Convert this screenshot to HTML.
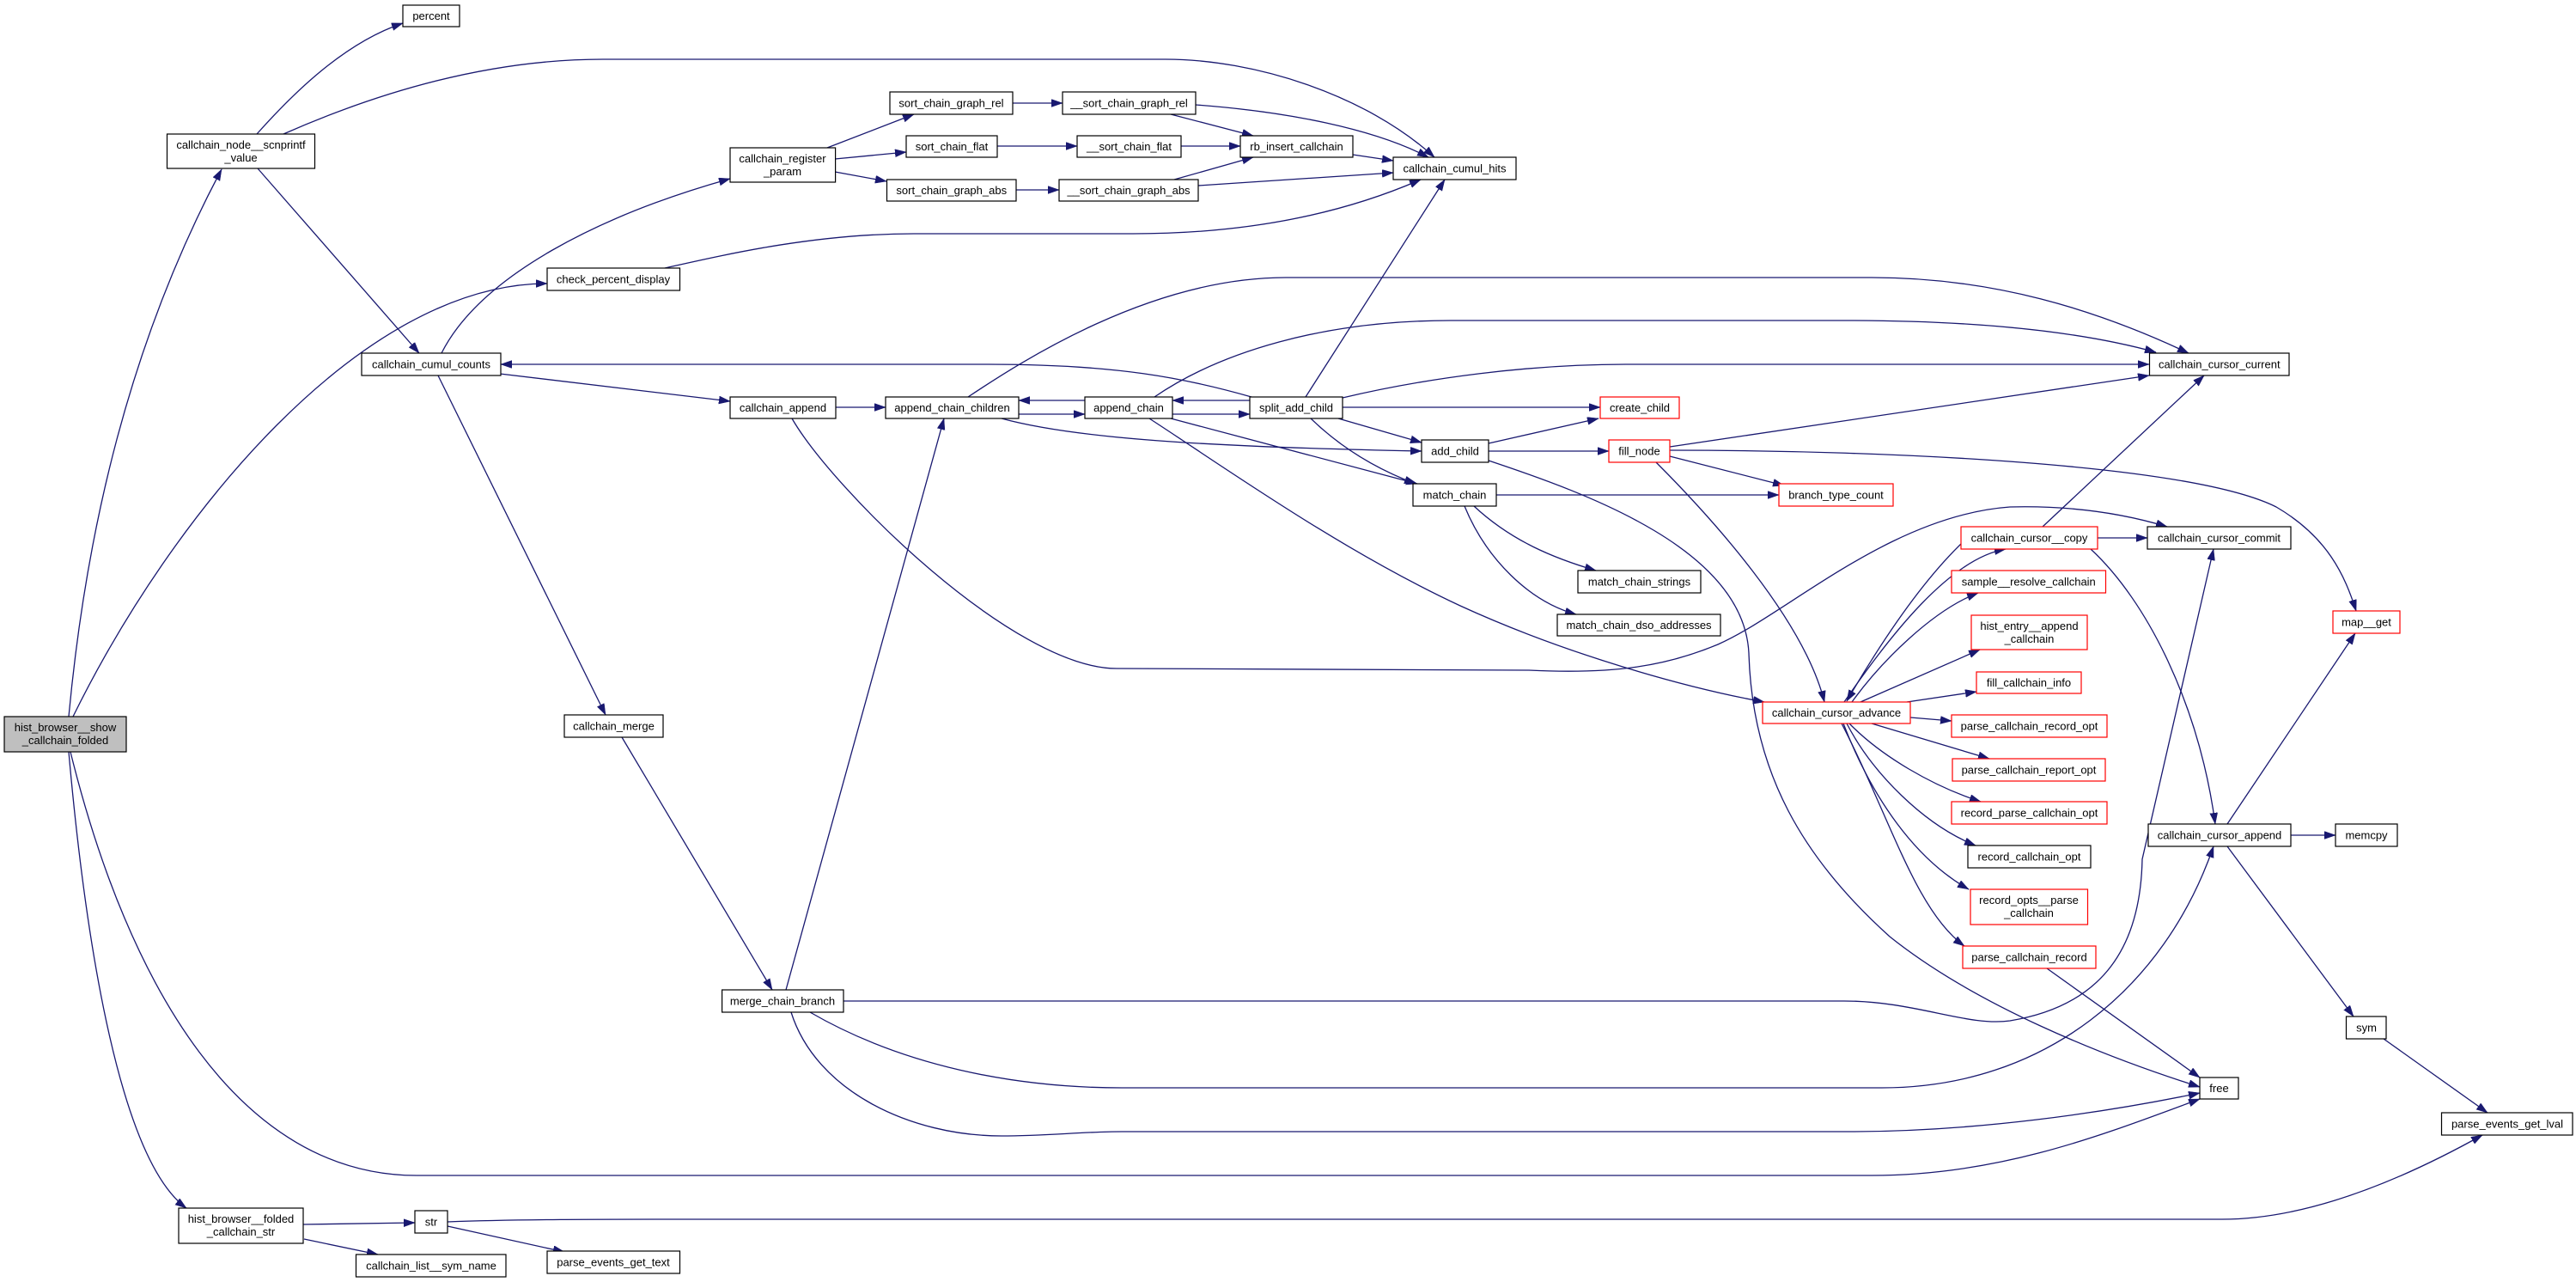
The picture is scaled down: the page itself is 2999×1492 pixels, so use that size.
<!DOCTYPE html>
<html><head><meta charset="utf-8"><style>
html,body{margin:0;padding:0;background:#fff;}
svg{display:block;}
text{font-family:"Liberation Sans",Arial,sans-serif;font-size:13px;fill:#000;text-anchor:middle;}
.e{fill:none;stroke:#191970;stroke-width:1.3;marker-end:url(#a);}
.n{fill:#fff;stroke:#000;stroke-width:1.2;}
.r{fill:#fff;stroke:#ff0000;stroke-width:1.2;}
.g{fill:#bfbfbf;stroke:#000;stroke-width:1.2;}
</style></head><body>
<svg width="2999" height="1492" viewBox="0 0 2999 1492" xmlns="http://www.w3.org/2000/svg">
<defs><marker id="a" markerUnits="userSpaceOnUse" markerWidth="14" markerHeight="10" refX="13" refY="4.5" orient="auto" viewBox="0 0 14 10"><path d="M0,0 L13,4.5 L0,9 z" fill="#191970" stroke="#191970" stroke-width="0.5"/></marker></defs>
<rect width="2999" height="1492" fill="#fff"/>
<g>
<path class="e" d="M80,834 C100,620 150,400 258,197"/>
<path class="e" d="M85,834 C200,600 420,330 637,330"/>
<path class="e" d="M299,156 C340,110 400,50 469,27"/>
<path class="e" d="M330,156 C430,112 560,69 702,69 L1357,69 C1460,69 1590,110 1670,183"/>
<path class="e" d="M300,196 L488,411"/>
<path class="e" d="M514,411 C560,320 700,250 850,208"/>
<path class="e" d="M774,312 C850,295 950,272 1064,272 L1319,272 C1450,272 1560,250 1654,209"/>
<path class="e" d="M582,435 L850,467"/>
<path class="e" d="M510,437 L705,832"/>
<path class="e" d="M963,172 L1064,133"/>
<path class="e" d="M972,185 L1055,177"/>
<path class="e" d="M972,200 L1032,211"/>
<path class="e" d="M1179,120 L1237,120"/>
<path class="e" d="M1161,170 L1254,170"/>
<path class="e" d="M1375,170 L1444,170"/>
<path class="e" d="M1183,221 L1233,221"/>
<path class="e" d="M1363,133 L1459,158"/>
<path class="e" d="M1367,209 L1459,183"/>
<path class="e" d="M1392,122 C1500,130 1600,150 1663,183"/>
<path class="e" d="M1575,180 L1622,187"/>
<path class="e" d="M1395,216 L1622,201"/>
<path class="e" d="M1520,462 L1682,209"/>
<path class="e" d="M973,474 L1031,474"/>
<path class="e" d="M1186,482 L1263,482"/>
<path class="e" d="M1263,466 L1186,466"/>
<path class="e" d="M1455,466 L1365,466"/>
<path class="e" d="M1365,482 L1455,482"/>
<path class="e" d="M1563,474 L1863,474"/>
<path class="e" d="M1457,462 C1380,440 1300,424 1150,424 L583,424"/>
<path class="e" d="M1127,462 C1190,420 1340,323 1497,323 L2179,323 C2320,323 2440,360 2548,411"/>
<path class="e" d="M1344,462 C1420,410 1540,373 1689,373 L2147,373 C2300,373 2420,385 2510,410"/>
<path class="e" d="M1563,463 C1660,440 1780,424 1893,424 L2502,424"/>
<path class="e" d="M1166,487 C1250,510 1400,520 1655,525"/>
<path class="e" d="M1558,487 L1655,515"/>
<path class="e" d="M1526,487 C1560,520 1600,545 1648,563"/>
<path class="e" d="M1363,487 L1650,563"/>
<path class="e" d="M1338,487 C1420,540 1560,640 1700,705 C1820,760 1960,800 2054,817"/>
<path class="e" d="M1733,525 L1873,525"/>
<path class="e" d="M1733,516 L1861,487"/>
<path class="e" d="M1733,536 C1850,575 2030,640 2036,760 C2040,900 2100,1000 2200,1090 C2300,1170 2450,1230 2561,1265"/>
<path class="e" d="M1742,576 L2071,576"/>
<path class="e" d="M1716,589 C1760,630 1810,650 1858,664"/>
<path class="e" d="M1705,589 C1730,650 1780,700 1835,715"/>
<path class="e" d="M1944,520 L2502,437"/>
<path class="e" d="M1944,524 C2200,524 2550,540 2650,590 C2710,625 2730,670 2743,711"/>
<path class="e" d="M1944,531 L2077,565"/>
<path class="e" d="M1928,538 C1990,600 2100,720 2124,817"/>
<path class="e" d="M922,487 C970,570 1180,778 1300,778 L1780,780 C1880,785 1940,775 2000,750 C2080,715 2200,600 2340,590 C2420,588 2480,600 2523,613"/>
<path class="e" d="M724,858 L899,1152"/>
<path class="e" d="M915,1152 L1099,487"/>
<path class="e" d="M982,1165 L2147,1165 C2230,1165 2290,1195 2340,1188 C2450,1170 2492,1100 2494,1000 L2577,639"/>
<path class="e" d="M943,1178 C1050,1240 1180,1266 1306,1266 L2191,1266 C2380,1266 2520,1150 2577,985"/>
<path class="e" d="M921,1178 C950,1270 1060,1322 1166,1322 C1220,1322 1260,1317 1306,1317 L2153,1317 C2300,1317 2450,1295 2561,1272"/>
<path class="e" d="M82,875 C150,1150 280,1368 485,1368 L2179,1368 C2330,1368 2450,1320 2561,1279"/>
<path class="e" d="M80,875 C100,1100 140,1350 217,1406"/>
<path class="e" d="M353,1425 L483,1423"/>
<path class="e" d="M354,1442 L440,1460"/>
<path class="e" d="M521,1427 L657,1457"/>
<path class="e" d="M521,1422 C600,1419 700,1419 800,1419 L2587,1419 C2700,1419 2820,1360 2890,1321"/>
<path class="e" d="M2147,817 C2200,740 2270,650 2335,639"/>
<path class="e" d="M2283,633 C2245,670 2200,730 2150,816"/>
<path class="e" d="M2156,817 C2190,770 2250,710 2303,690"/>
<path class="e" d="M2166,817 L2305,756"/>
<path class="e" d="M2220,817 L2301,805"/>
<path class="e" d="M2224,835 L2272,839"/>
<path class="e" d="M2179,842 L2316,883"/>
<path class="e" d="M2153,842 C2190,880 2250,915 2306,933"/>
<path class="e" d="M2150,842 C2180,900 2240,960 2300,984"/>
<path class="e" d="M2146,842 C2180,930 2230,1000 2292,1035"/>
<path class="e" d="M2144,842 C2200,950 2230,1060 2287,1101"/>
<path class="e" d="M2378,613 L2566,437"/>
<path class="e" d="M2442,626 L2500,626"/>
<path class="e" d="M2434,639 C2500,700 2560,820 2579,959"/>
<path class="e" d="M2593,959 L2742,737"/>
<path class="e" d="M2667,972 L2719,972"/>
<path class="e" d="M2593,985 L2740,1183"/>
<path class="e" d="M2775,1209 L2896,1295"/>
<path class="e" d="M2383,1127 L2561,1254"/>
</g>
<g>
<rect class="g" x="5" y="834" width="142" height="41"/><text x="76" y="851">hist_browser__show</text><text x="76" y="866">_callchain_folded</text>
<rect class="n" x="194.5" y="156" width="172" height="40"/><text x="280.5" y="173">callchain_node__scnprintf</text><text x="280.5" y="188">_value</text>
<rect class="n" x="469" y="6" width="66" height="25"/><text x="502" y="23">percent</text>
<rect class="n" x="637" y="312" width="154.5" height="26"/><text x="714" y="329.5">check_percent_display</text>
<rect class="n" x="421" y="411" width="162" height="26"/><text x="502" y="428.5">callchain_cumul_counts</text>
<rect class="n" x="850" y="172" width="122.6" height="40"/><text x="911" y="189">callchain_register</text><text x="911" y="204">_param</text>
<rect class="n" x="850" y="462" width="123" height="25"/><text x="911.5" y="479">callchain_append</text>
<rect class="n" x="657" y="832" width="115" height="26"/><text x="714.5" y="849.5">callchain_merge</text>
<rect class="n" x="840.6" y="1152" width="141.4" height="26"/><text x="911" y="1169.5">merge_chain_branch</text>
<rect class="n" x="208" y="1406" width="145" height="41"/><text x="280.5" y="1423">hist_browser__folded</text><text x="280.5" y="1438">_callchain_str</text>
<rect class="n" x="483" y="1409" width="38" height="26"/><text x="502" y="1426.5">str</text>
<rect class="n" x="414.5" y="1460" width="174.5" height="26"/><text x="502" y="1477.5">callchain_list__sym_name</text>
<rect class="n" x="637" y="1456" width="154.5" height="26"/><text x="714" y="1473.5">parse_events_get_text</text>
<rect class="n" x="1036" y="107" width="143" height="26"/><text x="1107.5" y="124.5">sort_chain_graph_rel</text>
<rect class="n" x="1237" y="107" width="155" height="26"/><text x="1314.5" y="124.5">__sort_chain_graph_rel</text>
<rect class="n" x="1055" y="158" width="106" height="25"/><text x="1108" y="175">sort_chain_flat</text>
<rect class="n" x="1254" y="158" width="121" height="25"/><text x="1314.5" y="175">__sort_chain_flat</text>
<rect class="n" x="1444" y="158" width="131" height="25"/><text x="1509.5" y="175">rb_insert_callchain</text>
<rect class="n" x="1622" y="183" width="143" height="26"/><text x="1693.5" y="200.5">callchain_cumul_hits</text>
<rect class="n" x="1032.5" y="209" width="150.5" height="25"/><text x="1107.75" y="226">sort_chain_graph_abs</text>
<rect class="n" x="1233" y="209" width="162" height="25"/><text x="1314" y="226">__sort_chain_graph_abs</text>
<rect class="n" x="1031" y="462" width="155" height="25"/><text x="1108.5" y="479">append_chain_children</text>
<rect class="n" x="1263" y="462" width="102" height="25"/><text x="1314" y="479">append_chain</text>
<rect class="n" x="1455" y="462" width="108" height="25"/><text x="1509" y="479">split_add_child</text>
<rect class="r" x="1863" y="462" width="92" height="25"/><text x="1909" y="479">create_child</text>
<rect class="n" x="1655" y="512" width="78" height="26"/><text x="1694" y="529.5">add_child</text>
<rect class="r" x="1873" y="512" width="71" height="26"/><text x="1908.5" y="529.5">fill_node</text>
<rect class="n" x="1645" y="563" width="97" height="26"/><text x="1693.5" y="580.5">match_chain</text>
<rect class="n" x="1837" y="664" width="143" height="26"/><text x="1908.5" y="681.5">match_chain_strings</text>
<rect class="n" x="1813" y="715" width="190" height="25"/><text x="1908" y="732">match_chain_dso_addresses</text>
<rect class="n" x="2502.5" y="411" width="162.5" height="26"/><text x="2583.75" y="428.5">callchain_cursor_current</text>
<rect class="r" x="2071" y="563" width="133" height="26"/><text x="2137.5" y="580.5">branch_type_count</text>
<rect class="r" x="2283" y="613" width="159" height="26"/><text x="2362.5" y="630.5">callchain_cursor__copy</text>
<rect class="n" x="2500" y="613" width="167" height="26"/><text x="2583.5" y="630.5">callchain_cursor_commit</text>
<rect class="r" x="2272" y="664" width="179.5" height="26"/><text x="2361.75" y="681.5">sample__resolve_callchain</text>
<rect class="r" x="2295" y="716" width="135" height="40"/><text x="2362.5" y="733">hist_entry__append</text><text x="2362.5" y="748">_callchain</text>
<rect class="r" x="2716" y="711" width="78" height="26"/><text x="2755" y="728.5">map__get</text>
<rect class="r" x="2301" y="782" width="122" height="25"/><text x="2362" y="799">fill_callchain_info</text>
<rect class="r" x="2052" y="817" width="172" height="25"/><text x="2138" y="834">callchain_cursor_advance</text>
<rect class="r" x="2272" y="832" width="181" height="26"/><text x="2362.5" y="849.5">parse_callchain_record_opt</text>
<rect class="r" x="2273" y="883" width="178" height="26"/><text x="2362" y="900.5">parse_callchain_report_opt</text>
<rect class="r" x="2272" y="933" width="181" height="26"/><text x="2362.5" y="950.5">record_parse_callchain_opt</text>
<rect class="n" x="2291" y="984" width="143" height="26"/><text x="2362.5" y="1001.5">record_callchain_opt</text>
<rect class="n" x="2501" y="959" width="166" height="26"/><text x="2584" y="976.5">callchain_cursor_append</text>
<rect class="n" x="2719" y="959" width="72" height="26"/><text x="2755" y="976.5">memcpy</text>
<rect class="r" x="2294" y="1035" width="136.5" height="41"/><text x="2362" y="1052">record_opts__parse</text><text x="2362" y="1067">_callchain</text>
<rect class="r" x="2285" y="1101" width="155" height="26"/><text x="2362.5" y="1118.5">parse_callchain_record</text>
<rect class="n" x="2561" y="1254" width="45" height="25"/><text x="2583.5" y="1271">free</text>
<rect class="n" x="2731.5" y="1183" width="46.5" height="26"/><text x="2755" y="1200.5">sym</text>
<rect class="n" x="2842.5" y="1295" width="152.5" height="26"/><text x="2919" y="1312.5">parse_events_get_lval</text>
</g>
</svg>
</body></html>
